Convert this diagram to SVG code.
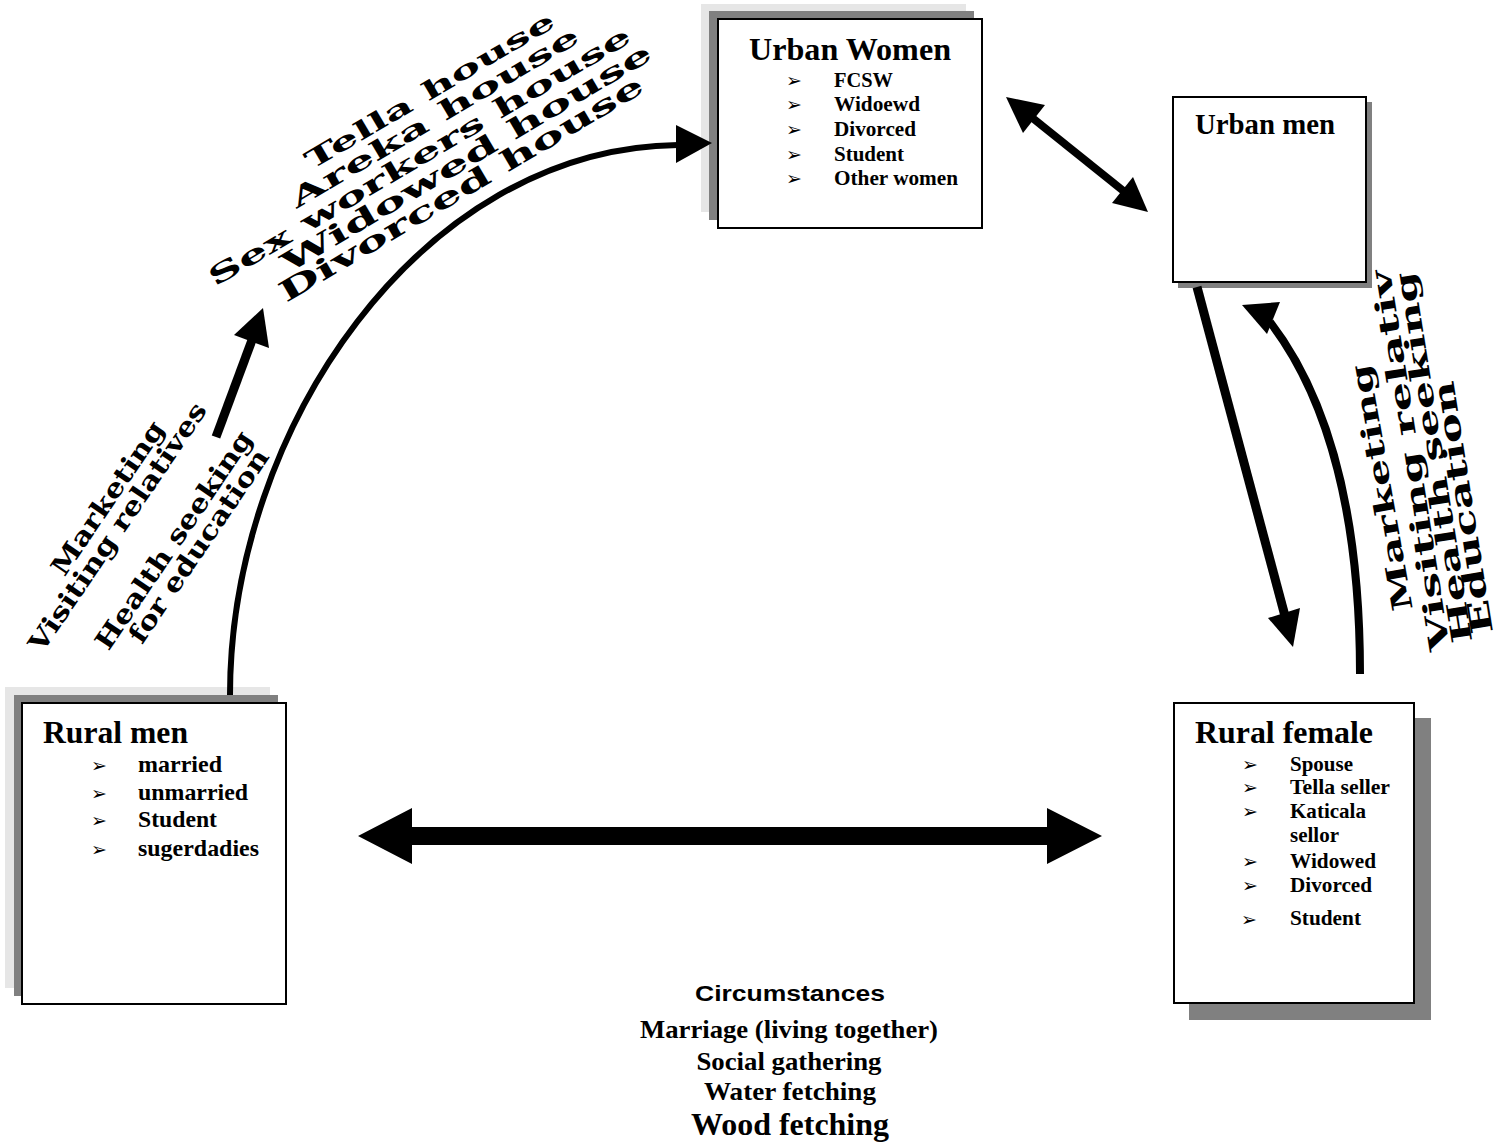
<svg xmlns="http://www.w3.org/2000/svg" width="1503" height="1145" viewBox="0 0 1503 1145">
<style>
.box{fill:#fff;stroke:#000;stroke-width:2}
.sh1{fill:#e6e6e6}
.sh2{fill:#808080}
.t{font-family:"Liberation Serif","Times New Roman",serif;font-weight:bold;fill:#000}
.bl{font-family:"DejaVu Sans",sans-serif;font-size:19px;fill:#000}
.wa{font-family:"DejaVu Serif",serif;font-weight:bold;fill:#000}
.ln{fill:none;stroke:#000}
</style>
<rect width="1503" height="1145" fill="#fff"/>

<g id="urban-women">
<rect class="sh1" x="701" y="4" width="265" height="208"/>
<rect class="sh2" x="709" y="11" width="265" height="209"/>
<rect class="box" x="718" y="19" width="264" height="209"/>
<text class="t" x="850" y="60" font-size="32" text-anchor="middle" textLength="202" lengthAdjust="spacingAndGlyphs">Urban Women</text>
<text class="bl" x="786" y="87">➢</text>
<text class="bl" x="786" y="111">➢</text>
<text class="bl" x="786" y="136">➢</text>
<text class="bl" x="786" y="161">➢</text>
<text class="bl" x="786" y="185">➢</text>
<g class="t" font-size="20">
<text x="834" y="87" textLength="59" lengthAdjust="spacingAndGlyphs">FCSW</text>
<text x="834" y="111" textLength="86" lengthAdjust="spacingAndGlyphs">Widoewd</text>
<text x="834" y="136" textLength="82" lengthAdjust="spacingAndGlyphs">Divorced</text>
<text x="834" y="161" textLength="70" lengthAdjust="spacingAndGlyphs">Student</text>
<text x="834" y="185" textLength="124" lengthAdjust="spacingAndGlyphs">Other women</text>
</g>
</g>

<g id="urban-men">
<rect class="sh2" x="1178" y="102" width="194" height="186"/>
<rect class="box" x="1173" y="97" width="193" height="185"/>
<text class="t" x="1195" y="134" font-size="29" textLength="140" lengthAdjust="spacingAndGlyphs">Urban men</text>
</g>

<g id="rural-men">
<rect class="sh1" x="5" y="687" width="265" height="301"/>
<rect class="sh2" x="14" y="695" width="264" height="301"/>
<rect class="box" x="22" y="703" width="264" height="301"/>
<text class="t" x="43" y="743" font-size="31" textLength="145" lengthAdjust="spacingAndGlyphs">Rural men</text>
<text class="bl" x="91" y="772" font-size="21">➢</text>
<text class="bl" x="91" y="800" font-size="21">➢</text>
<text class="bl" x="91" y="827" font-size="21">➢</text>
<text class="bl" x="91" y="856" font-size="21">➢</text>
<g class="t" font-size="23">
<text x="138" y="772" textLength="84" lengthAdjust="spacingAndGlyphs">married</text>
<text x="138" y="800" textLength="110" lengthAdjust="spacingAndGlyphs">unmarried</text>
<text x="138" y="827" textLength="79" lengthAdjust="spacingAndGlyphs">Student</text>
<text x="138" y="856" textLength="121" lengthAdjust="spacingAndGlyphs">sugerdadies</text>
</g>
</g>

<g id="rural-female">
<rect class="sh2" x="1189" y="718" width="242" height="302"/>
<rect class="box" x="1174" y="703" width="240" height="300"/>
<text class="t" x="1195" y="743" font-size="32" textLength="178" lengthAdjust="spacingAndGlyphs">Rural female</text>
<text class="bl" x="1242" y="771">➢</text>
<text class="bl" x="1242" y="794">➢</text>
<text class="bl" x="1242" y="818">➢</text>
<text class="bl" x="1242" y="868">➢</text>
<text class="bl" x="1242" y="892">➢</text>
<text class="bl" x="1241" y="926" font-size="24">➢</text>
<g class="t" font-size="21">
<text x="1290" y="771" textLength="63" lengthAdjust="spacingAndGlyphs">Spouse</text>
<text x="1290" y="794" textLength="100" lengthAdjust="spacingAndGlyphs">Tella seller</text>
<text x="1290" y="818" textLength="76" lengthAdjust="spacingAndGlyphs">Katicala</text>
<text x="1290" y="842" textLength="49" lengthAdjust="spacingAndGlyphs">sellor</text>
<text x="1290" y="868" textLength="86" lengthAdjust="spacingAndGlyphs">Widowed</text>
<text x="1290" y="892" textLength="82" lengthAdjust="spacingAndGlyphs">Divorced</text>
<text x="1290" y="925" textLength="71" lengthAdjust="spacingAndGlyphs">Student</text>
</g>
</g>

<g id="circumstances" text-anchor="middle">
<text x="790" y="1001" font-family="Liberation Sans, Arial, sans-serif" font-weight="bold" font-size="22" textLength="190" lengthAdjust="spacingAndGlyphs">Circumstances</text>
<text class="t" x="789" y="1038" font-size="25" textLength="298" lengthAdjust="spacingAndGlyphs">Marriage (living together)</text>
<text class="t" x="789" y="1070" font-size="25" textLength="185" lengthAdjust="spacingAndGlyphs">Social gathering</text>
<text class="t" x="790" y="1100" font-size="25" textLength="172" lengthAdjust="spacingAndGlyphs">Water fetching</text>
<text class="t" x="790" y="1135" font-size="31" textLength="198" lengthAdjust="spacingAndGlyphs">Wood fetching</text>
</g>

<g id="connectors">
<path class="ln" stroke-width="6" d="M230,695 C230,430 420,148 678,145"/>
<polygon points="712,143 676,125 676,163"/>
<line class="ln" stroke-width="9" x1="216" y1="437" x2="252" y2="340"/>
<polygon points="263,308 234,335 269,348"/>
<line class="ln" stroke-width="8" x1="1030" y1="116" x2="1126" y2="193"/>
<polygon points="1006,97 1045,105 1023,133"/>
<polygon points="1148,212 1112,203 1133,177"/>
<line class="ln" stroke-width="9" x1="1197" y1="287" x2="1285" y2="616"/>
<polygon points="1293,647 1268,618 1300,608"/>
<path class="ln" stroke-width="8" d="M1360,674 C1360,520 1330,400 1270,322"/>
<polygon points="1242,305 1280,302 1267,334"/>
<polygon points="358,836 412,808 412,827 1047,827 1047,808 1102,836 1047,864 1047,845 412,845 412,864"/>
</g>

<g id="labels-urban-women" class="wa" text-anchor="middle">
<text transform="translate(434,98) rotate(-30.5)" font-size="25" textLength="285" lengthAdjust="spacingAndGlyphs">Tella house</text>
<text transform="translate(439,125) rotate(-30.5)" font-size="26" textLength="330" lengthAdjust="spacingAndGlyphs">Areka house</text>
<text transform="translate(424,164) rotate(-30.5)" font-size="26" textLength="485" lengthAdjust="spacingAndGlyphs">Sex workers house</text>
<text transform="translate(471,166) rotate(-30.5)" font-size="27" textLength="425" lengthAdjust="spacingAndGlyphs">Widowed house</text>
<text transform="translate(466,197) rotate(-30.5)" font-size="28" textLength="418" lengthAdjust="spacingAndGlyphs">Divorced house</text>
</g>

<g id="labels-rural-men" class="wa" font-size="26" text-anchor="middle">
<text transform="translate(115,503) rotate(-55.8)" textLength="180" lengthAdjust="spacingAndGlyphs">Marketing</text>
<text transform="translate(125,532) rotate(-55.8)" textLength="295" lengthAdjust="spacingAndGlyphs">Visiting relatives</text>
<text transform="translate(181,545) rotate(-55.8)" textLength="258" lengthAdjust="spacingAndGlyphs">Health seeking</text>
<text transform="translate(206,551) rotate(-55.8)" textLength="228" lengthAdjust="spacingAndGlyphs">for education</text>
</g>

<g id="labels-rural-female" class="wa" text-anchor="middle">
<text transform="translate(1391,486) rotate(-100)" font-size="28" textLength="250" lengthAdjust="spacingAndGlyphs">Marketing</text>
<text transform="translate(1420,459) rotate(-99)" font-size="28" textLength="385" lengthAdjust="spacingAndGlyphs">Visiting relativ</text>
<text transform="translate(1443,456) rotate(-99)" font-size="28" textLength="375" lengthAdjust="spacingAndGlyphs">Health seeking</text>
<text transform="translate(1473,506) rotate(-99)" font-size="30" textLength="255" lengthAdjust="spacingAndGlyphs">Education</text>
</g>
</svg>
